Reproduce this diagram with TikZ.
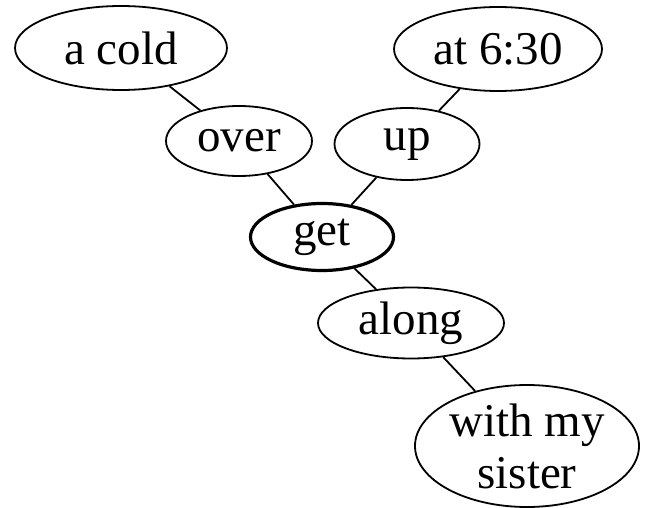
\documentclass[tikz,border=0pt]{standalone}
\usepackage{fontspec}
\setmainfont{Liberation Serif}
\usetikzlibrary{shapes.geometric}
\begin{document}
\begin{tikzpicture}[x=1pt,y=-1pt,
  bub/.style={ellipse,draw,line width=1.8pt,inner sep=0pt,align=center,
    font=\fontsize{47}{47}\selectfont},
  link/.style={line width=1.8pt}]
\useasboundingbox (0,0) rectangle (646,508);
\node[bub,minimum width=212,minimum height=84] (cold) at (121,48) {a cold};
\node[bub,minimum width=208,minimum height=84] (time) at (498,49) {at 6:30};
\node[bub,minimum width=146,minimum height=70] (over) at (239,141) {over};
\node[bub,minimum width=145,minimum height=72] (up) at (407,144) {up};
\node[bub,line width=3.2pt,minimum width=143,minimum height=67] (get) at (322,237) {get};
\node[bub,minimum width=186,minimum height=71] (along) at (411,323) {along};
\node[bub,minimum width=224,minimum height=122,font=\fontsize{47}{52}\selectfont] (sister) at (527,446) {with my\\sister};
\draw[link] (cold) -- (over);
\draw[link] (time) -- (up);
\draw[link] (over) -- (get);
\draw[link] (up) -- (get);
\draw[link] (get) -- (along);
\draw[link] (along) -- (sister);
\end{tikzpicture}
\end{document}
